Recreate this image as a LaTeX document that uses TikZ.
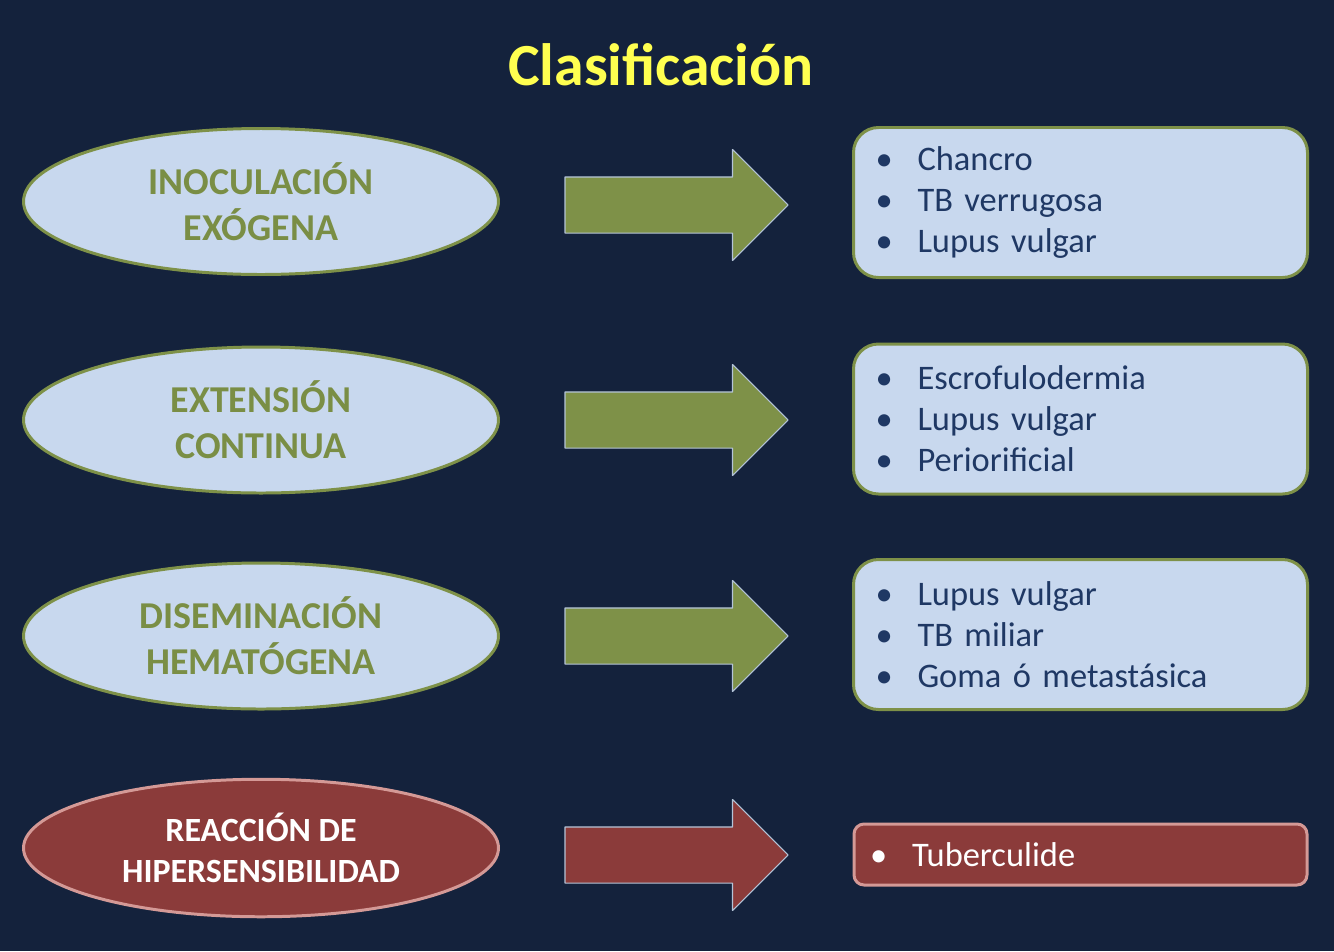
\documentclass[tikz,border=0pt]{standalone}
\usepackage{fontspec}
\setmainfont{Carlito}
\newfontfamily\clboxfont{Carlito}[WordSpace=0.7]
\usepackage{xcolor}
\usepackage{tikz}
\usetikzlibrary{shapes.geometric,shapes.arrows,positioning}
\definecolor{clNavy}{HTML}{14223C}
\definecolor{clPale}{HTML}{C8D8EE}
\definecolor{clGreen}{HTML}{7E9148}
\definecolor{clGreenText}{HTML}{7A8E45}
\definecolor{clInk}{HTML}{1F3864}
\definecolor{clRed}{HTML}{8B3B3A}
\definecolor{clRose}{HTML}{D49996}
\definecolor{clEdge}{HTML}{B4C4D8}
\definecolor{clTitle}{HTML}{FFFF50}
\newcommand{\clitem}[1]{\makebox[0.84cm][l]{\textbullet}#1}
\tikzset{
  cl diagram/.style={line join=round},
  cl ellipse/.style={ellipse, draw=clGreen, fill=clPale, line width=1.7pt,
    minimum width=9.5cm, minimum height=2.92cm, inner sep=0pt, align=center,
    text=clGreenText, font=\bfseries\fontsize{21.6}{26}\selectfont},
  cl red ellipse/.style={cl ellipse, draw=clRose, fill=clRed, text=white,
    font=\bfseries\fontsize{19.3}{23}\selectfont, minimum height=2.75cm},
  cl arrow/.style={single arrow, draw=clEdge, fill=clGreen, line width=0.6pt,
    minimum height=4.46cm, minimum width=2.2cm, inner xsep=0pt, inner ysep=0.55cm,
    single arrow head extend=0.55cm, single arrow head indent=0pt},
  cl red arrow/.style={cl arrow, fill=clRed},
  cl box/.style={rectangle, draw=clGreen, fill=clPale, line width=1.7pt,
    rounded corners=0.5cm, text width=8.2cm, inner xsep=0.44cm, align=left,
    minimum height=3.0cm, text=clInk, font=\clboxfont\fontsize{19.6}{23.3}\selectfont},
  cl red box/.style={cl box, draw=clRose, fill=clRed, text=white,
    rounded corners=0.2cm, minimum height=1.22cm, inner xsep=0.32cm, text width=8.42cm}
}
\begin{document}
\begin{tikzpicture}[cl diagram]
\path[use as bounding box, fill=clNavy] (0,0) rectangle (26.68,-19.02);
\node[text=clTitle, font=\bfseries\fontsize{34}{40}\selectfont] (title) at (13.22,-1.3) {Clasificación};
% left column
\node[cl ellipse] (inoc) at (5.22,-4.03) {INOCULACIÓN\\EXÓGENA};
\node[cl ellipse] (exten) at (5.22,-8.4) {EXTENSIÓN\\CONTINUA};
\node[cl ellipse] (disem) at (5.22,-12.72) {DISEMINACIÓN\\HEMATÓGENA};
\node[cl red ellipse] (hiper) at (5.22,-16.96) {REACCIÓN DE\\HIPERSENSIBILIDAD};
% arrows
\node[cl arrow] (inocarrow) at (13.25,-4.1) {};
\node[cl arrow] (extenarrow) at (13.25,-8.4) {};
\node[cl arrow] (disemarrow) at (13.25,-12.72) {};
\node[cl red arrow] (hiperarrow) at (13.25,-17.1) {};
% right column
\node[cl box] (inocbox) at (21.61,-4.05) {\clitem{Chancro}\\\clitem{TB verrugosa}\\\clitem{Lupus vulgar}};
\node[cl box] (extenbox) at (21.61,-8.38) {\clitem{Escrofulodermia}\\\clitem{Lupus vulgar}\\\clitem{Periorificial}};
\node[cl box] (disembox) at (21.61,-12.69) {\clitem{Lupus vulgar}\\\clitem{TB miliar}\\\clitem{Goma ó metastásica}};
\node[cl red box] (hiperbox) at (21.61,-17.09) {\clitem{Tuberculide}};
\end{tikzpicture}
\end{document}
